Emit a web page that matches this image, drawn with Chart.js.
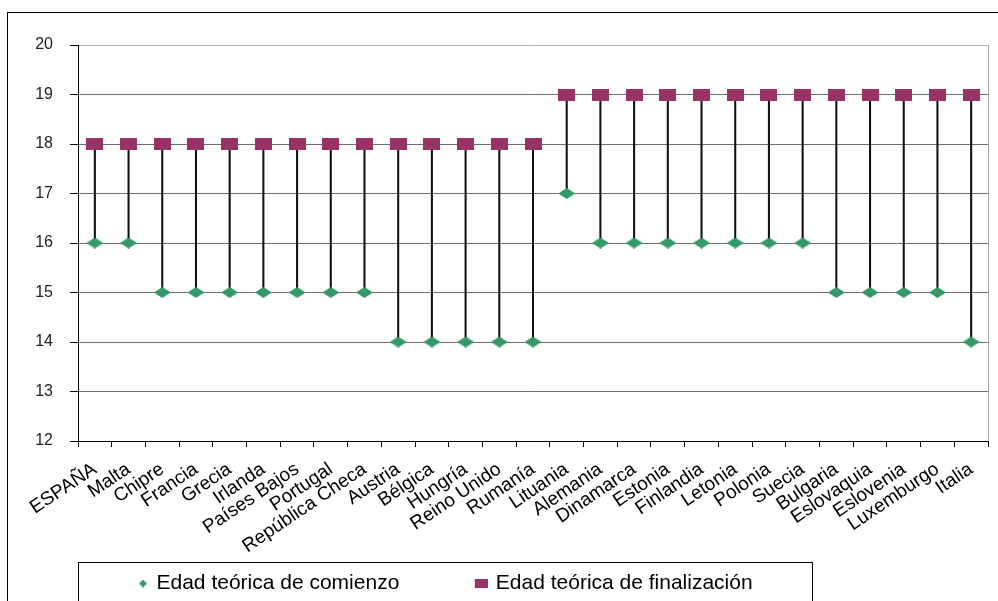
<!DOCTYPE html>
<html>
<head>
<meta charset="utf-8">
<title>Edad teórica</title>
<script src="https://cdn.jsdelivr.net/npm/chart.js@4.4.0/dist/chart.umd.min.js"></script>
<style>
  html, body { margin: 0; padding: 0; background: #fff; }
  #frame { position: absolute; left: 7px; top: 12px; width: 990px; height: 588px; border-top: 1px solid #000; border-left: 1px solid #000; }
  #chart { display: block; }
</style>
</head>
<body>
<div id="frame"><canvas id="chart" width="990" height="588"></canvas></div>
<script>
  var paises = ['ESPAÑA', 'Malta', 'Chipre', 'Francia', 'Grecia', 'Irlanda', 'Países Bajos', 'Portugal', 'República Checa',
    'Austria', 'Bélgica', 'Hungría', 'Reino Unido', 'Rumanía', 'Lituania', 'Alemania', 'Dinamarca', 'Estonia',
    'Finlandia', 'Letonia', 'Polonia', 'Suecia', 'Bulgaria', 'Eslovaquia', 'Eslovenia', 'Luxemburgo', 'Italia'];
  var comienzo = [16, 16, 15, 15, 15, 15, 15, 15, 15, 14, 14, 14, 14, 14, 17, 16, 16, 16, 16, 16, 16, 16, 15, 15, 15, 15, 14];
  var finalizacion = [18, 18, 18, 18, 18, 18, 18, 18, 18, 18, 18, 18, 18, 18, 19, 19, 19, 19, 19, 19, 19, 19, 19, 19, 19, 19, 19];
  var edadMin = 12;
  var edadMax = 20;

  var verde = '#339966';
  var morado = '#993366';
  var fuente = 'Liberation Sans, Arial, sans-serif';

  // marker images (the original markers are wider than tall)
  // hueco = empty space left of the marker, used for spacing in the legend
  function marcador(w, h, color, rombo, hueco) {
    hueco = hueco || 0;
    var c = document.createElement('canvas');
    c.width = w + hueco;
    c.height = h;
    var g = c.getContext('2d');
    g.fillStyle = color;
    g.beginPath();
    if (rombo) {
      g.moveTo(hueco + w / 2, 0);
      g.lineTo(hueco + w, h / 2);
      g.lineTo(hueco + w / 2, h);
      g.lineTo(hueco, h / 2);
      g.closePath();
    } else {
      g.rect(hueco, 0, w, h);
    }
    g.fill();
    return c;
  }
  var rombo = marcador(17, 11, verde, true);
  var cuadro = marcador(17, 12, morado, false);
  var romboLeyenda = marcador(8, 8, verde, true, 70);
  var cuadroLeyenda = marcador(13, 9, morado, false, 68);

  var barras = [];
  for (var i = 0; i < paises.length; i++) {
    barras.push([comienzo[i], finalizacion[i]]);
  }

  //----------------------------------------frames--------------------------------------//
  var marcos = {
    id: 'marcos',
    afterLayout: function(chart) {
      // legend starts under the y axis in the original
      chart.legend.left = chart.chartArea.left - 18;
    },
    beforeDatasetsDraw: function(chart) {
      var a = chart.chartArea;
      var ctx = chart.ctx;
      ctx.save();
      ctx.strokeStyle = '#a6a6a6';
      ctx.lineWidth = 1;
      ctx.beginPath();
      ctx.moveTo(a.right + 0.5, a.top);
      ctx.lineTo(a.right + 0.5, a.bottom);
      ctx.stroke();
      ctx.restore();
    },
    afterDraw: function(chart) {
      var ctx = chart.ctx;
      ctx.save();
      ctx.strokeStyle = '#000';
      ctx.lineWidth = 1;
      ctx.strokeRect(chart.chartArea.left + 0.5, 549.5, 734, 60);
      ctx.restore();
    }
  };

  var myChart = new Chart(document.getElementById('chart'), {
    type: 'bar',
    data: {
      labels: paises,
      datasets: [{
          type: 'line',
          label: 'Edad teórica de comienzo',
          data: comienzo,
          showLine: false,
          pointStyle: rombo,
          pointRadius: 8,
          backgroundColor: verde,
          borderColor: verde,
          order: 0
        },
        {
          type: 'line',
          label: 'Edad teórica de finalización',
          data: finalizacion,
          showLine: false,
          pointStyle: cuadro,
          pointRadius: 8,
          backgroundColor: morado,
          borderColor: morado,
          order: 1
        },
        {
          type: 'bar',
          label: 'rango',
          data: barras,
          backgroundColor: '#111',
          borderWidth: 0,
          barThickness: 1.4,
          order: 2
        }
      ]
    },
    options: {
      responsive: false,
      animation: false,
      layout: {
        padding: { top: 32, right: 10, left: 0, bottom: -3 }
      },
      plugins: {
        tooltip: { enabled: false },
        legend: {
          position: 'bottom',
          align: 'start',
          labels: {
            usePointStyle: true,
            pointStyleWidth: 76,
            boxHeight: 10,
            padding: 10,
            color: '#000',
            font: { family: fuente, size: 21 },
            generateLabels: function(chart) {
              return [{
                  text: chart.data.datasets[0].label,
                  pointStyle: romboLeyenda,
                  fillStyle: verde,
                  strokeStyle: verde,
                  lineWidth: 0,
                  hidden: false,
                  datasetIndex: 0
                },
                {
                  text: chart.data.datasets[1].label,
                  pointStyle: cuadroLeyenda,
                  fillStyle: morado,
                  strokeStyle: morado,
                  lineWidth: 0,
                  hidden: false,
                  datasetIndex: 1
                }
              ];
            }
          }
        }
      },
      scales: {
        x: {
          offset: true,
          grid: {
            offset: true,
            drawOnChartArea: false,
            drawTicks: true,
            tickLength: 6,
            tickColor: '#000'
          },
          border: { color: '#000', width: 1 },
          ticks: {
            autoSkip: false,
            minRotation: 34,
            maxRotation: 34,
            padding: 11,
            color: '#000',
            font: { family: fuente, size: 19 }
          },
          afterFit: function(scale) {
            scale.height = 122;
          }
        },
        y: {
          min: edadMin,
          max: edadMax,
          grid: {
            color: function(c) {
              return c.tick && c.tick.value === edadMax ? '#b4b4b4' : '#6e6e6e';
            },
            tickLength: 8,
            tickColor: '#000'
          },
          border: { color: '#000', width: 1 },
          ticks: {
            stepSize: 1,
            padding: 17,
            color: '#222',
            font: { family: fuente, size: 16 }
          },
          afterFit: function(scale) {
            scale.width = 70;
          }
        }
      }
    },
    plugins: [marcos]
  });
</script>
</body>
</html>
